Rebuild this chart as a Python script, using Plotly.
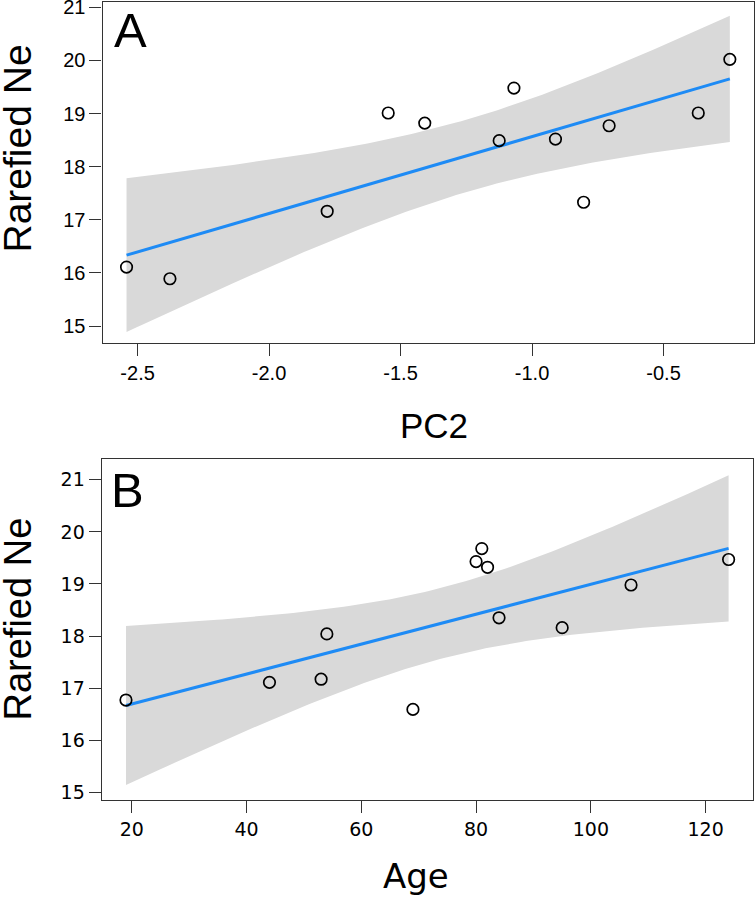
import numpy as np
import plotly.graph_objects as go

# Panel A data: PC2 vs Rarefied Ne
pc2 = [-2.542, -2.377, -1.779, -1.547, -1.408, -1.125, -1.069, -0.911, -0.804, -0.707, -0.368, -0.248]
ne_a = [16.11, 15.89, 17.16, 19.01, 18.82, 18.49, 19.48, 18.52, 17.33, 18.77, 19.01, 20.02]

# Panel B data: Age vs Rarefied Ne
age = [19, 44, 53, 54, 69, 80, 81, 82, 84, 95, 107, 124]
ne_b = [16.77, 17.11, 17.17, 18.04, 16.59, 19.43, 19.68, 19.32, 18.35, 18.16, 18.98, 19.47]

y_ticks = [15, 16, 17, 18, 19, 20, 21]
xa_ticks = [-2.5, -2.0, -1.5, -1.0, -0.5]
xa_labels = ["-2.5", "-2.0", "-1.5", "-1.0", "-0.5"]
xb_ticks = [20, 40, 60, 80, 100, 120]

BAND_MULT = 2.9  # simultaneous (Working-Hotelling style) band multiplier


def fit_band(x, y, n=120):
    x = np.asarray(x, float)
    y = np.asarray(y, float)
    xm = x.mean()
    sxx = ((x - xm) ** 2).sum()
    b = ((x - xm) * (y - y.mean())).sum() / sxx
    a = y.mean() - b * xm
    res = y - (a + b * x)
    s = np.sqrt((res ** 2).sum() / (len(x) - 2))
    g = np.linspace(x.min(), x.max(), n)
    fit = a + b * g
    se = s * np.sqrt(1 / len(x) + (g - xm) ** 2 / sxx)
    return g, fit, fit - BAND_MULT * se, fit + BAND_MULT * se


fig = go.Figure()

BAND = "#D9D9D9"
LINE = "#1E8BF5"

for x, y, xa, ya in [(pc2, ne_a, "x", "y"), (age, ne_b, "x2", "y2")]:
    g, fit, lo, hi = fit_band(x, y)
    fig.add_trace(go.Scatter(
        x=np.concatenate([g, g[::-1]]), y=np.concatenate([hi, lo[::-1]]),
        fill="toself", fillcolor=BAND, line=dict(width=0), mode="lines",
        hoverinfo="skip", xaxis=xa, yaxis=ya, showlegend=False))
    fig.add_trace(go.Scatter(
        x=g, y=fit, mode="lines", line=dict(color=LINE, width=3),
        xaxis=xa, yaxis=ya, showlegend=False))
    fig.add_trace(go.Scatter(
        x=x, y=y, mode="markers",
        marker=dict(symbol="circle-open", size=11.5, color="black", line=dict(width=1.7, color="black")),
        xaxis=xa, yaxis=ya, showlegend=False))

W, H = 755, 900
fontA = "Liberation Sans, Arial, sans-serif"
fontB = "DejaVu Sans, Verdana, sans-serif"

axis_common = dict(showline=True, mirror=True, linecolor="#333", linewidth=1.3,
                   ticks="outside", ticklen=12, tickcolor="#333", tickwidth=1,
                   showgrid=False, zeroline=False, automargin=False,
                   ticklabeloverflow="allow")

fig.update_layout(
    width=W, height=H, margin=dict(l=0, r=0, t=0, b=0),
    paper_bgcolor="white", plot_bgcolor="white",
    xaxis=dict(domain=[102.6 / W, 753.5 / W], range=[-2.633, -0.158],
               tickvals=xa_ticks, ticktext=xa_labels, anchor="y",
               tickfont=dict(family=fontA, size=20, color="black"), **axis_common),
    yaxis=dict(domain=[1 - 342.5 / H, 1 - 2 / H], range=[14.69, 21.1],
               tickvals=y_ticks, anchor="x",
               tickfont=dict(family=fontA, size=20, color="black"), **axis_common),
    xaxis2=dict(domain=[101.7 / W, 752.7 / W], range=[14.77, 128.2],
                tickvals=xb_ticks, anchor="y2",
                tickfont=dict(family=fontB, size=19, color="black"), **axis_common),
    yaxis2=dict(domain=[1 - 800 / H, 1 - 459 / H], range=[14.85, 21.40],
                tickvals=y_ticks, anchor="x2",
                tickfont=dict(family=fontB, size=19, color="black"), **axis_common),
)

ann = [
    dict(text="Rarefied Ne", x=17 / W, y=1 - 148.5 / H, textangle=-90, font=dict(family=fontA, size=39)),
    dict(text="Rarefied Ne", x=17 / W, y=1 - 619.5 / H, textangle=-90, font=dict(family=fontA, size=38)),
    dict(text="PC2", x=433.5 / W, y=1 - 425 / H, font=dict(family=fontA, size=35)),
    dict(text="Age", x=416 / W, y=1 - 876 / H, font=dict(family=fontB, size=34)),
    dict(text="A", x=130 / W, y=1 - 30.5 / H, font=dict(family=fontA, size=49)),
    dict(text="B", x=127 / W, y=1 - 489.5 / H, font=dict(family=fontA, size=49)),
]
for a in ann:
    a.update(xref="paper", yref="paper", showarrow=False, xanchor="center", yanchor="middle")
    a["font"]["color"] = "black"
    fig.add_annotation(**a)

fig.write_html("out.html", config={"displayModeBar": False},
               post_script="document.body.style.margin='0';document.body.style.overflow='hidden';")
